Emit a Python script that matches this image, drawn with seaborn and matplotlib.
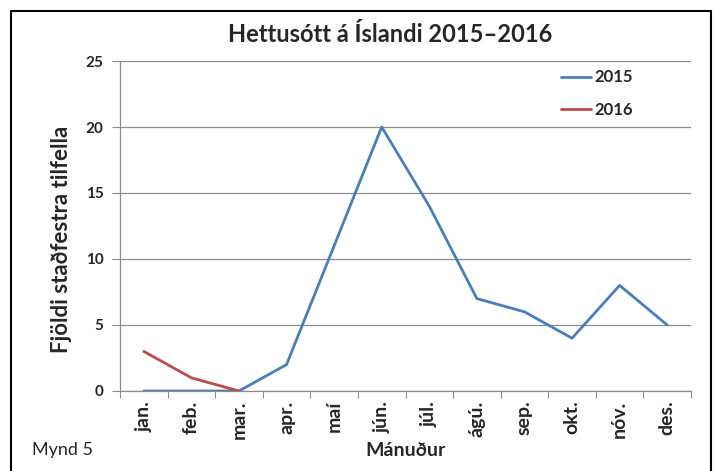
import numpy as np
import pandas as pd
import seaborn as sns
import matplotlib.pyplot as plt
from matplotlib.patches import Rectangle

months = ['jan.', 'feb.', 'mar.', 'apr.', 'maí', 'jún.', 'júl.', 'ágú.',
          'sep.', 'okt.', 'nóv.', 'des.']
cases_2015 = [0, 0, 0, 2, 11, 20, 14, 7, 6, 4, 8, 5]
months_2016 = ['jan.', 'feb.', 'mar.']
cases_2016 = [3, 1, 0]

df = pd.concat([
    pd.DataFrame({'month': np.arange(len(months)), 'cases': cases_2015, 'year': '2015'}),
    pd.DataFrame({'month': np.arange(len(months_2016)), 'cases': cases_2016, 'year': '2016'}),
])

sns.set_theme(style='white')
plt.rcParams['font.family'] = ['Lato', 'DejaVu Sans']

grey = '#8c8c8c'
fig = plt.figure(figsize=(7.15, 4.71), dpi=100)
ax = fig.add_axes([120 / 715, 80 / 471, 571 / 715, 330 / 471])

sns.lineplot(data=df, x='month', y='cases', hue='year',
             palette={'2015': '#4a7ebb', '2016': '#be4b48'},
             linewidth=2.0, ax=ax)

ax.set_xlim(-0.5, len(months) - 0.5)
ax.set_ylim(0, 25)
ax.set_yticks(range(0, 26, 5))
ax.set_xticks(np.arange(len(months)))
ax.set_xticklabels(months, rotation=90, fontsize=14, fontweight='bold')
ax.set_xticks(np.arange(-0.5, len(months)), minor=True)
ax.tick_params(axis='x', which='major', length=0, pad=7)
ax.tick_params(axis='x', which='minor', length=5, color=grey, width=0.8, bottom=True)
ax.tick_params(axis='y', length=6, color=grey, width=0.8, pad=6, left=True)
for lab in ax.get_yticklabels():
    lab.set_fontweight('bold')
    lab.set_fontsize(11)

ax.yaxis.grid(True, color=grey, linewidth=0.9)
ax.set_axisbelow(True)
for s in ['top', 'right']:
    ax.spines[s].set_visible(False)
for s in ['left', 'bottom']:
    ax.spines[s].set_color(grey)
    ax.spines[s].set_linewidth(0.9)

ax.set_xlabel('Mánuður', fontsize=14, fontweight='bold')
ax.xaxis.set_label_coords(0.5, -0.155)
ax.set_ylabel('Fjöldi staðfestra tilfella', fontsize=16, fontweight='bold')
ax.yaxis.set_label_coords(-0.084, 0.459)

ax.legend(loc='upper left', bbox_to_anchor=(0.758, 1.0), frameon=False,
          borderpad=0, handlelength=1.8, handletextpad=0.2, labelspacing=0.97,
          prop={'size': 12, 'weight': 'bold'})

fig.text(390 / 715, 1 - 35 / 471, 'Hettusótt á Íslandi 2015–2016',
         ha='center', va='center', fontsize=17, fontweight='bold')
fig.text(32 / 715, 1 - 450 / 471, 'Mynd 5', ha='left', va='center', fontsize=13)

fig.patches.append(Rectangle((11 / 715, -0.05), 700 / 715, 1.05 - 11 / 471,
                             transform=fig.transFigure, fill=False,
                             edgecolor='black', linewidth=1.5, clip_on=False))

fig.savefig('out.png', dpi=100)
